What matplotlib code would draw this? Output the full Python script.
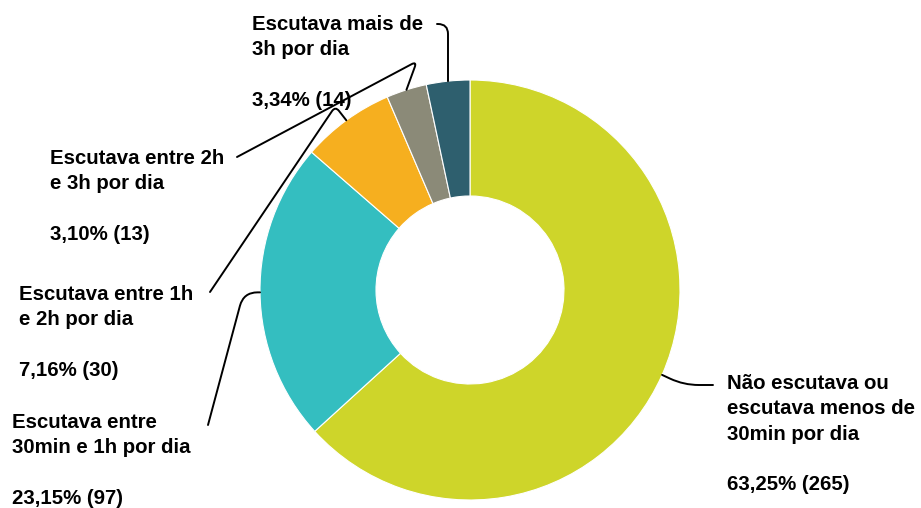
import matplotlib
matplotlib.use("Agg")
import matplotlib.pyplot as plt
import numpy as np

# ---- data ----
categories = [
    "Não escutava ou\nescutava menos de\n30min por dia",
    "Escutava entre\n30min e 1h por dia",
    "Escutava entre 1h\ne 2h por dia",
    "Escutava entre 2h\ne 3h por dia",
    "Escutava mais de\n3h por dia",
]
counts = [265, 97, 30, 13, 14]
colors = ["#CED52A", "#34BEC0", "#F6AF1F", "#8B8A78", "#2E5F6E"]

# ---- layout (screen pixels, y measured from top) ----
W, H = 921, 508
center_px = (470, 290)
radius_px = 210
ring_width_px = 116
label_pos = [(727, 374), (12, 413), (19, 285), (50, 149), (252, 15)]
leader_end = [(713, 385), (208, 425), (210, 292), (237, 157), (437, 24)]
leader_style = [
    (0, -25, 15),
    (75, 0, 14),
    (56, 128, 6),
    (28, 70, 6),
    (0, 90, 10),
]

plt.rcParams["font.family"] = ["Liberation Sans", "DejaVu Sans"]

fig = plt.figure(figsize=(W / 100, H / 100), dpi=100)
ax = fig.add_axes([0, 0, 1, 1])

cx, cy = center_px[0], H - center_px[1]
wedges, _ = ax.pie(
    counts,
    colors=colors,
    startangle=90,
    counterclock=False,
    center=(cx, cy),
    radius=radius_px,
    wedgeprops=dict(width=ring_width_px, edgecolor="white", linewidth=0.8),
)
ax.set_xlim(0, W)
ax.set_ylim(0, H)
ax.set_aspect("equal")
ax.axis("off")

total = sum(counts)
for i, (cat, c) in enumerate(zip(categories, counts)):
    w = wedges[i]
    mid = np.deg2rad((w.theta1 + w.theta2) / 2)
    px = cx + radius_px * np.cos(mid)
    py = cy + radius_px * np.sin(mid)
    pct = f"{100 * c / total:.2f}".replace(".", ",")
    txt = f"{cat}\n\n{pct}% ({c})"
    lx, ly = label_pos[i]
    ax.text(lx, H - ly, txt, ha="left", va="top", fontsize=14.7,
            fontweight="bold", color="black", linespacing=1.42)
    ex, ey = leader_end[i]
    aA, aB, rad = leader_style[i]
    ax.annotate("", xy=(px, py), xytext=(ex, H - ey),
                arrowprops=dict(arrowstyle="-", color="black", lw=1.4,
                                shrinkA=0, shrinkB=0,
                                connectionstyle=f"angle,angleA={aA},angleB={aB},rad={rad}"))

fig.savefig("out.png", dpi=100, facecolor="white")
